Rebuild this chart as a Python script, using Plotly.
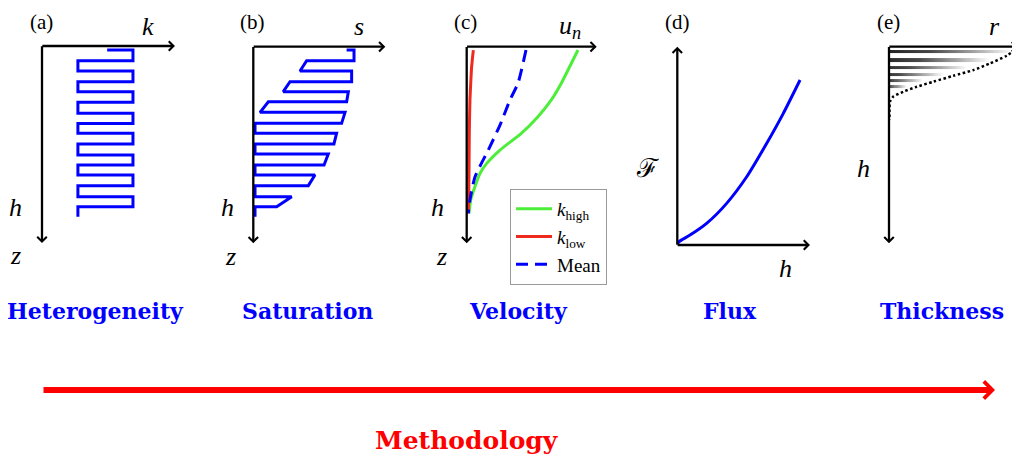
import numpy as np
import plotly.graph_objects as go

W, H = 1020, 455
OFF = 8  # the page body adds an 8px margin; the figure is shrunk to fit
FW, FH = W - OFF, H - OFF

# (a) heterogeneity: permeability reached after each turn of the layered profile, depth of each turn
het_k = [0.49, 0.684, 0.27, 0.684, 0.27, 0.684, 0.27, 0.684, 0.27,
         0.684, 0.27, 0.684, 0.27, 0.684, 0.27, 0.684, 0.27]
het_z = [0.020, 0.075, 0.127, 0.181, 0.232, 0.286, 0.342, 0.393, 0.443,
         0.497, 0.553, 0.604, 0.655, 0.709, 0.765, 0.816, 0.867]

# (b) saturation profile
sat_s = [0.707, 0.763, 0.763, 0.404, 0.354, 0.745, 0.745, 0.278, 0.227, 0.720, 0.707,
         0.114, 0.051, 0.695, 0.669, 0.013, 0.013, 0.631, 0.611, 0.013, 0.013, 0.568,
         0.536, 0.013, 0.013, 0.467, 0.417, 0.013, 0.013, 0.291, 0.177, 0.013, 0.013]
sat_z = [0.017, 0.017, 0.071, 0.071, 0.124, 0.124, 0.178, 0.178, 0.229, 0.229, 0.280,
         0.280, 0.334, 0.334, 0.390, 0.390, 0.441, 0.441, 0.495, 0.495, 0.546, 0.546,
         0.602, 0.602, 0.653, 0.653, 0.707, 0.707, 0.763, 0.763, 0.814, 0.814, 0.866]

# (c) velocity profiles
vel_high_u = [0.856, 0.792, 0.728, 0.651, 0.548, 0.420, 0.256, 0.154, 0.102, 0.063, 0.031, 0.018]
vel_high_z = [0.017, 0.102, 0.186, 0.271, 0.356, 0.441, 0.526, 0.594, 0.645, 0.713, 0.780, 0.848]
vel_low_u = [0.051, 0.038, 0.031, 0.025, 0.020, 0.018, 0.015, 0.012]
vel_low_z = [0.017, 0.102, 0.186, 0.271, 0.441, 0.611, 0.780, 0.848]
vel_mean_u = [0.456, 0.395, 0.333, 0.256, 0.166, 0.064, 0.025, 0.012]
vel_mean_z = [0.017, 0.185, 0.271, 0.399, 0.526, 0.662, 0.780, 0.848]

# (d) flux against thickness
flux_h = [0.004, 0.013, 0.096, 0.221, 0.372, 0.523, 0.674, 0.799, 0.925]
flux_f = [0.008, 0.017, 0.050, 0.109, 0.210, 0.344, 0.513, 0.664, 0.832]

# (e) thickness: dotted envelope and shaded stripes
thk_r = [0.977, 0.912, 0.783, 0.654, 0.499, 0.344, 0.215, 0.111, 0.033, 0.008, 0.004]
thk_z = [0.017, 0.046, 0.085, 0.119, 0.148, 0.178, 0.204, 0.229, 0.254, 0.280, 0.373]
stripe_z = [0.025, 0.068, 0.105, 0.141, 0.174, 0.204]

BLUE = "#0000ff"
GREEN = "#4dee3a"
RED = "#ee2a1e"
SERIF = "Liberation Serif"
BOLD = "DejaVu Serif"
AXW = 2.3

# name, origin (px in the 1020x455 picture), arrow lengths (px), vertical arrow points up
PANELS = [
    ("a", 42.0, 46.0, 133.0, 197.0, False),
    ("b", 253.3, 46.7, 132.0, 196.5, False),
    ("c", 466.7, 46.7, 130.0, 196.5, False),
    ("d", 677.3, 245.0, 132.7, 198.3, True),
    ("e", 889.0, 46.7, 129.0, 196.5, False),
]


def px_x(px):
    return (px - OFF) / FW


def px_y(py):
    return 1 - (py - OFF) / FH


fig = go.Figure()
layout_axes = {}
axes = {}
annotations = []
for i, (pname, ox, oy, lx, ly, up) in enumerate(PANELS, start=1):
    left, right = ox - 20, min(ox + lx + 8, W)
    if up:
        top, bottom = oy - ly - 8, oy + 12
        yr = [(oy - bottom) / ly, (oy - top) / ly]
    else:
        top, bottom = oy - 12, oy + ly + 8
        yr = [(bottom - oy) / ly, (top - oy) / ly]
    xr = [(left - ox) / lx, (right - ox) / lx]
    sfx = "" if i == 1 else str(i)
    layout_axes["xaxis" + sfx] = dict(domain=[px_x(left), px_x(right)], range=xr,
                                      visible=False, anchor="y" + sfx, fixedrange=True)
    layout_axes["yaxis" + sfx] = dict(domain=[px_y(bottom), px_y(top)], range=yr,
                                      visible=False, anchor="x" + sfx, fixedrange=True)
    xa, ya = "x" + sfx, "y" + sfx
    axes[pname] = (xa, ya)
    arrow = dict(xref=xa, yref=ya, axref=xa, ayref=ya, text="", showarrow=True,
                 arrowhead=4, arrowsize=0.8, arrowwidth=AXW, arrowcolor="black",
                 standoff=0)
    annotations.append(dict(arrow, x=1, y=0, ax=-AXW / 2 / lx, ay=0))
    annotations.append(dict(arrow, x=0, y=1, ax=0, ay=-AXW / 2 / ly))


def add(panel, x, y, **kw):
    xa, ya = axes[panel]
    fig.add_trace(go.Scatter(x=x, y=y, xaxis=xa, yaxis=ya, mode="lines",
                             hoverinfo="skip", **kw))


add("a", het_k, het_z, line=dict(color=BLUE, width=3, shape="hv"), showlegend=False)
add("b", sat_s, sat_z, line=dict(color=BLUE, width=3), showlegend=False)
add("c", vel_high_u, vel_high_z, name="<i>k</i><sub>high</sub>",
    line=dict(color=GREEN, width=3, shape="spline", smoothing=0.6))
add("c", vel_low_u, vel_low_z, name="<i>k</i><sub>low</sub>",
    line=dict(color=RED, width=3, shape="spline", smoothing=0.6))
add("c", vel_mean_u, vel_mean_z, name="Mean",
    line=dict(color=BLUE, width=3, dash="12px,7px", shape="spline", smoothing=0.6))
add("d", flux_h, flux_f, line=dict(color=BLUE, width=3, shape="spline", smoothing=0.6),
    showlegend=False)

# shaded stripes under the envelope in (e), fading from the axis outwards
xe = np.linspace(0, 1, 121)
xc = 0.5 * (xe[:-1] + xe[1:])
half = 0.008
y_edges, zrows = [], []
for j, zc in enumerate(stripe_z):
    y_edges += [zc - half, zc + half]
    rmax = np.interp(zc, thk_z, thk_r)
    frac = np.clip(xc / rmax + 0.07 * j, 0, 1)
    zrows.append(np.where(xc <= rmax, frac, np.nan))
    if j < len(stripe_z) - 1:
        zrows.append(np.full(xc.size, np.nan))
xa, ya = axes["e"]
fig.add_trace(go.Heatmap(x=xe, y=y_edges, z=zrows, xaxis=xa, yaxis=ya, zmin=0, zmax=1,
                         colorscale=[[0, "#222222"], [0.35, "#484848"], [0.7, "#a6a6a6"],
                                     [1, "#ffffff"]],
                         showscale=False, hoverinfo="skip"))
add("e", thk_r, thk_z, line=dict(color="black", width=2.5, dash="2.5px,2.5px",
                                 shape="spline", smoothing=0.6), showlegend=False)


def label(text, px, py, size, color="black", family=SERIF):
    annotations.append(dict(text=text, x=px_x(px), y=px_y(py), xref="paper", yref="paper",
                            showarrow=False, xanchor="center", yanchor="middle",
                            font=dict(family=family, size=size, color=color)))


for tag, px in zip(["(a)", "(b)", "(c)", "(d)", "(e)"], [41, 252, 465, 677, 888]):
    label(tag, px, 22, 21)

for txt, px, py in [("k", 148, 27), ("h", 16, 207), ("z", 16, 255),
                    ("s", 359, 27), ("h", 227, 207), ("z", 230, 256),
                    ("u<sub>n</sub>", 570, 27), ("h", 437, 207), ("z", 441, 256),
                    ("h", 785, 268), ("r", 994, 27), ("h", 863, 168)]:
    label("<i>" + txt + "</i>", px, py, 26)
label("ℱ", 648, 168, 26)

for txt, px in zip(["Heterogeneity", "Saturation", "Velocity", "Flux", "Thickness"],
                   [95, 307, 518, 730, 942]):
    label("<b>" + txt + "</b>", px, 311, 22, color=BLUE, family=BOLD)

label("<b>Methodology</b>", 467, 440, 25, color="red", family=BOLD)

annotations.append(dict(x=px_x(995), y=px_y(390), xref="paper", yref="paper",
                        ax=-(995 - 42), ay=0, axref="pixel", ayref="pixel", text="",
                        showarrow=True, arrowhead=4, arrowsize=0.55, arrowwidth=6,
                        arrowcolor="red", standoff=0))

fig.update_layout(
    **layout_axes,
    width=FW, height=FH,
    margin=dict(l=0, r=0, t=0, b=0),
    paper_bgcolor="white", plot_bgcolor="white",
    hovermode=False,
    annotations=annotations,
    legend=dict(x=px_x(510), y=px_y(189), xanchor="left", yanchor="top",
                bgcolor="white", bordercolor="#9a9a9a", borderwidth=1,
                font=dict(family=SERIF, size=19, color="black"),
                itemwidth=36, tracegroupgap=0),
)

fig.write_html("out.html")
